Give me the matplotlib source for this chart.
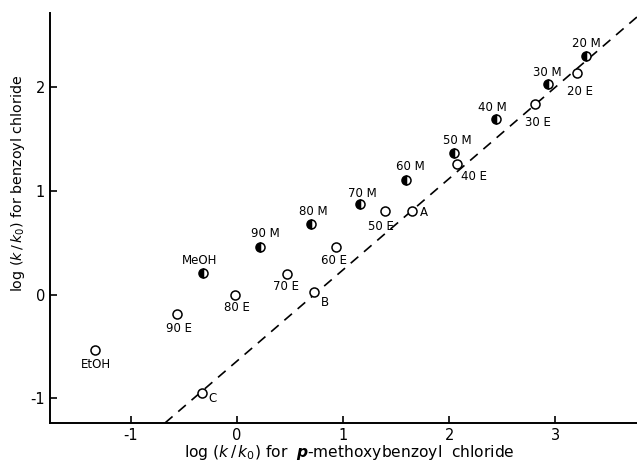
import matplotlib
matplotlib.use("Agg")
import matplotlib.pyplot as plt

# Open circles (ethanol-water mixtures and others)
open_labels = ["20 E", "30 E", "40 E", "50 E", "60 E", "70 E", "80 E", "90 E", "EtOH", "A", "B", "C"]
open_x = [3.204, 2.805, 2.073, 1.398, 0.933, 0.471, -0.016, -0.560, -1.336, 1.649, 0.731, -0.330]
open_y = [2.129, 1.833, 1.252, 0.805, 0.459, 0.196, -0.007, -0.190, -0.537, 0.805, 0.025, -0.944]

# Half-filled circles (methanol-water mixtures)
half_labels = ["20 M", "30 M", "40 M", "50 M", "60 M", "70 M", "80 M", "90 M", "MeOH"]
half_x = [3.286, 2.931, 2.441, 2.048, 1.596, 1.162, 0.700, 0.220, -0.315]
half_y = [2.299, 2.026, 1.686, 1.364, 1.101, 0.870, 0.674, 0.459, 0.208]

# Reference dashed line
line_slope = 0.879
line_intercept = -0.642

x_ticks = [-1, 0, 1, 2, 3]
y_ticks = [-1, 0, 1, 2]

# label offsets in pixels (dx, dy) relative to point
open_offsets = {
    "20 E": (3, -18), "30 E": (3, -18), "40 E": (17, -12), "50 E": (-4, -16),
    "60 E": (-2, -14), "70 E": (-1, -12), "80 E": (2, -12), "90 E": (2, -14),
    "EtOH": (1, -14), "A": (12, -2), "B": (11, -11), "C": (11, -6),
}
half_offsets = {
    "20 M": (1, 12), "30 M": (-1, 12), "40 M": (-4, 12), "50 M": (3, 12),
    "60 M": (4, 14), "70 M": (2, 11), "80 M": (2, 13), "90 M": (5, 13),
    "MeOH": (-4, 12),
}

plt.rcParams["axes.unicode_minus"] = False
plt.rcParams["font.family"] = "DejaVu Sans"

fig = plt.figure(figsize=(6.37, 4.66), dpi=100)
ax = fig.add_axes([50 / 637, 1 - 423 / 466, 1 - 50 / 637, (423 - 13) / 466])

ax.set_xlim(-1.76, 3.77)
ax.set_ylim(-1.237, 2.71)

ax.axline((0, line_intercept), slope=line_slope, color="black", lw=1.2,
          linestyle=(0, (6, 4.5)), zorder=1)

ax.plot(open_x, open_y, linestyle="none", marker="o", markersize=6.5,
        markerfacecolor="white", markeredgecolor="black", markeredgewidth=1.1, zorder=3)
ax.plot(half_x, half_y, linestyle="none", marker="o", markersize=6.5,
        fillstyle="left", markerfacecolor="black", markerfacecoloralt="white",
        markeredgecolor="black", markeredgewidth=1.1, zorder=3)

for lab, x, y in zip(open_labels, open_x, open_y):
    dx, dy = open_offsets[lab]
    ax.annotate(lab, (x, y), xytext=(dx, dy), textcoords="offset pixels",
                ha="center", va="center", fontsize=8.5, zorder=4)
for lab, x, y in zip(half_labels, half_x, half_y):
    dx, dy = half_offsets[lab]
    ax.annotate(lab, (x, y), xytext=(dx, dy), textcoords="offset pixels",
                ha="center", va="center", fontsize=8.5, zorder=4)

for s in ["top", "right"]:
    ax.spines[s].set_visible(False)
for s in ["left", "bottom"]:
    ax.spines[s].set_linewidth(1.4)

ax.set_xticks(x_ticks)
ax.set_yticks(y_ticks)
ax.set_xticklabels([str(t) for t in x_ticks])
ax.set_yticklabels([str(t) for t in y_ticks])
ax.tick_params(direction="in", length=5, width=1.2, labelsize=10.5)

ax.set_xlabel(r"log ($k\,/\,k_0$) for  $\boldsymbol{p}$-methoxybenzoyl  chloride", fontsize=11.2)
ax.set_ylabel(r"log ($k\,/\,k_0$) for benzoyl chloride", fontsize=10.3)
ax.xaxis.set_label_coords((349 - 50) / 587, -0.05)
ax.yaxis.set_label_coords(-0.04, (423 - 183) / 410)

fig.savefig("out.png", dpi=100)
